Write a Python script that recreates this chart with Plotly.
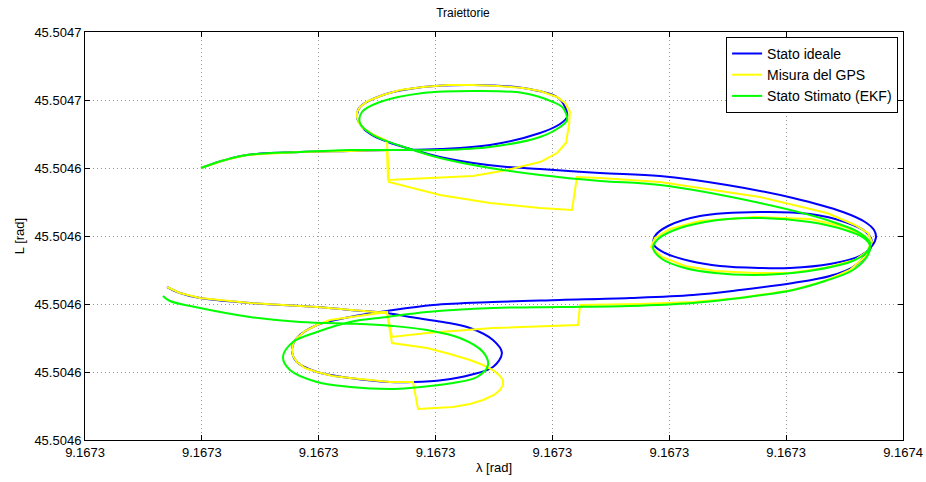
import plotly.graph_objects as go

# ---- tick labels ----
x_tickvals = [9.16728, 9.16729, 9.16730, 9.16731, 9.16732, 9.16733, 9.16734, 9.16735]
x_ticktext = ["9.1673", "9.1673", "9.1673", "9.1673", "9.1673", "9.1673", "9.1673", "9.1674"]
y_tickvals = [45.50456, 45.50458, 45.50460, 45.50462, 45.50464, 45.50466, 45.50468]
y_ticktext = ["45.5046", "45.5046", "45.5046", "45.5046", "45.5046", "45.5047", "45.5047"]

# ---- Stato ideale ----
ideal_lam = [9.16728993, 9.16729198, 9.16729386, 9.16729840, 9.16730268, 9.16730610, 9.16731038, 9.16731466,
             9.16731894, 9.16732065, 9.16732125, 9.16732108, 9.16732039, 9.16731748, 9.16731320, 9.16730892,
             9.16730550, 9.16730353, 9.16730328, 9.16730379, 9.16730473, 9.16730593, 9.16730756, 9.16731038,
             9.16731320, 9.16731611, 9.16731894, 9.16732407, 9.16732920, 9.16733494, 9.16734059, 9.16734486,
             9.16734675, 9.16734752, 9.16734769, 9.16734735, 9.16734632, 9.16734375, 9.16734033, 9.16733776,
             9.16733434, 9.16733177, 9.16732963, 9.16732869, 9.16732878, 9.16732989, 9.16733263, 9.16733776,
             9.16734204, 9.16734504, 9.16734683, 9.16734735, 9.16734709, 9.16734572, 9.16734375, 9.16734059,
             9.16733605, 9.16733203, 9.16732664, 9.16732065, 9.16731491, 9.16730978, 9.16730584, 9.16730268,
             9.16729985, 9.16729814, 9.16729771, 9.16729814, 9.16729985, 9.16730268, 9.16730610, 9.16730807,
             9.16731064, 9.16731295, 9.16731491, 9.16731568, 9.16731491, 9.16731295, 9.16731064, 9.16730781,
             9.16730584, 9.16730268, 9.16729985, 9.16729412, 9.16728984, 9.16728813, 9.16728702]
ideal_L = [45.50464000, 45.50464235, 45.50464382, 45.50464471, 45.50464500, 45.50464529, 45.50464559, 45.50464676,
           45.50465029, 45.50465294, 45.50465500, 45.50465794, 45.50466088, 45.50466353, 45.50466441, 45.50466382,
           45.50466147, 45.50465794, 45.50465500, 45.50465177, 45.50464941, 45.50464765, 45.50464588, 45.50464324,
           45.50464147, 45.50464029, 45.50463971, 45.50463853, 45.50463765, 45.50463500, 45.50463118, 45.50462706,
           45.50462412, 45.50462176, 45.50461971, 45.50461706, 45.50461412, 45.50461176, 45.50461059, 45.50461059,
           45.50461118, 45.50461265, 45.50461500, 45.50461735, 45.50462000, 45.50462294, 45.50462588, 45.50462706,
           45.50462647, 45.50462412, 45.50462118, 45.50461824, 45.50461559, 45.50461088, 45.50460824, 45.50460618,
           45.50460412, 45.50460265, 45.50460176, 45.50460118, 45.50460059, 45.50459971, 45.50459794, 45.50459618,
           45.50459382, 45.50459000, 45.50458647, 45.50458294, 45.50458000, 45.50457824, 45.50457706, 45.50457706,
           45.50457765, 45.50457912, 45.50458147, 45.50458559, 45.50458941, 45.50459294, 45.50459471, 45.50459618,
           45.50459735, 45.50459824, 45.50459912, 45.50460029, 45.50460176, 45.50460324, 45.50460500]

# ---- Misura del GPS ----
gps_lam = [9.16728993, 9.16729198, 9.16729386, 9.16729840, 9.16730268, 9.16730584, 9.16730593, 9.16731038,
           9.16731320, 9.16731611, 9.16731894, 9.16732039, 9.16732116, 9.16732142, 9.16732150, 9.16732108,
           9.16732039, 9.16731894, 9.16731748, 9.16731534, 9.16731320, 9.16731106, 9.16730892, 9.16730696,
           9.16730550, 9.16730422, 9.16730353, 9.16730328, 9.16730328, 9.16730345, 9.16730379, 9.16730473,
           9.16730584, 9.16730601, 9.16731038, 9.16731466, 9.16731894, 9.16732167, 9.16732210, 9.16732407,
           9.16732920, 9.16733776, 9.16734350, 9.16734589, 9.16734700, 9.16734735, 9.16734700, 9.16734589,
           9.16734332, 9.16734033, 9.16733733, 9.16733391, 9.16733134, 9.16732938, 9.16732843, 9.16732878,
           9.16733006, 9.16733263, 9.16733733, 9.16734204, 9.16734504, 9.16734675, 9.16734718, 9.16734683,
           9.16734546, 9.16734332, 9.16734059, 9.16733605, 9.16733203, 9.16732749, 9.16732236, 9.16732219,
           9.16731491, 9.16730927, 9.16730627,
           9.16730584, 9.16730268, 9.16730097, 9.16729985, 9.16729883, 9.16729814, 9.16729780, 9.16729771,
           9.16729780, 9.16729814, 9.16729883, 9.16729985, 9.16730122, 9.16730268, 9.16730439, 9.16730610,
           9.16730807, 9.16730850, 9.16731149, 9.16731295, 9.16731406, 9.16731500, 9.16731551, 9.16731577,
           9.16731577, 9.16731543, 9.16731491, 9.16731406, 9.16731295, 9.16731123, 9.16730927, 9.16730627,
           9.16730584, 9.16730268, 9.16729985, 9.16729412, 9.16728984, 9.16728813, 9.16728702]
gps_L = [45.50464000, 45.50464235, 45.50464382, 45.50464471, 45.50464500, 45.50464529, 45.50463647, 45.50463706,
         45.50463765, 45.50463941, 45.50464176, 45.50464441, 45.50464735, 45.50465265, 45.50465647, 45.50465912,
         45.50466088, 45.50466265, 45.50466353, 45.50466412, 45.50466441, 45.50466441, 45.50466382, 45.50466294,
         45.50466147, 45.50465971, 45.50465794, 45.50465647, 45.50465500, 45.50465324, 45.50465177, 45.50464971,
         45.50464794, 45.50463588, 45.50463206, 45.50462971, 45.50462824, 45.50462765, 45.50463735, 45.50463706,
         45.50463588, 45.50463147, 45.50462676, 45.50462324, 45.50462088, 45.50461824, 45.50461559, 45.50461294,
         45.50461059, 45.50460912, 45.50460912, 45.50460971, 45.50461118, 45.50461382, 45.50461676, 45.50461941,
         45.50462206, 45.50462441, 45.50462559, 45.50462500, 45.50462265, 45.50462000, 45.50461735, 45.50461412,
         45.50461000, 45.50460676, 45.50460412, 45.50460176, 45.50460059, 45.50460000, 45.50459971, 45.50459382,
         45.50459294, 45.50459147, 45.50459029,
         45.50459765, 45.50459618, 45.50459529, 45.50459382, 45.50459206, 45.50459000, 45.50458824, 45.50458647,
         45.50458471, 45.50458294, 45.50458118, 45.50458000, 45.50457882, 45.50457824, 45.50457765, 45.50457706,
         45.50457706, 45.50456912, 45.50456971, 45.50457059, 45.50457176, 45.50457324, 45.50457471, 45.50457618,
         45.50457765, 45.50457912, 45.50458059, 45.50458206, 45.50458353, 45.50458529, 45.50458706, 45.50458853,
         45.50459735, 45.50459824, 45.50459912, 45.50460029, 45.50460176, 45.50460324, 45.50460500]

# ---- Stato Stimato (EKF) ----
ekf_lam = [9.16728993, 9.16729198, 9.16729386, 9.16729840, 9.16730268, 9.16730610, 9.16731038, 9.16731466,
           9.16731894, 9.16732065, 9.16732125, 9.16732090, 9.16732005, 9.16731748, 9.16731320, 9.16730892,
           9.16730524, 9.16730370, 9.16730353, 9.16730465, 9.16730756, 9.16731038, 9.16731466, 9.16731894,
           9.16732407, 9.16732920, 9.16733776, 9.16734350, 9.16734632, 9.16734718, 9.16734683, 9.16734546,
           9.16734247, 9.16733947, 9.16733716, 9.16733391, 9.16733134, 9.16732938, 9.16732861, 9.16732895,
           9.16733023, 9.16733306, 9.16733716, 9.16734204, 9.16734504, 9.16734666, 9.16734718, 9.16734700,
           9.16734572, 9.16734332, 9.16734059, 9.16733605, 9.16733203, 9.16732664, 9.16732065, 9.16731491,
           9.16730927, 9.16730584, 9.16730268, 9.16729985, 9.16729780, 9.16729694, 9.16729754, 9.16729985,
           9.16730268, 9.16730610, 9.16730781, 9.16731149, 9.16731355, 9.16731449, 9.16731406, 9.16731209,
           9.16730927, 9.16730636, 9.16730353, 9.16729840, 9.16729412, 9.16728984, 9.16728727, 9.16728667]
ekf_L = [45.50464000, 45.50464235, 45.50464382, 45.50464471, 45.50464529, 45.50464529, 45.50464529, 45.50464618,
         45.50464912, 45.50465206, 45.50465412, 45.50465765, 45.50465941, 45.50466206, 45.50466265, 45.50466206,
         45.50465941, 45.50465647, 45.50465324, 45.50464971, 45.50464588, 45.50464294, 45.50464000, 45.50463794,
         45.50463618, 45.50463500, 45.50462971, 45.50462471, 45.50462088, 45.50461794, 45.50461500, 45.50461235,
         45.50461000, 45.50460882, 45.50460853, 45.50460912, 45.50461059, 45.50461324, 45.50461647, 45.50461882,
         45.50462147, 45.50462412, 45.50462529, 45.50462412, 45.50462176, 45.50461941, 45.50461706, 45.50461441,
         45.50461000, 45.50460676, 45.50460412, 45.50460176, 45.50460029, 45.50459941, 45.50459912, 45.50459882,
         45.50459765, 45.50459618, 45.50459471, 45.50459176, 45.50458882, 45.50458441, 45.50458059, 45.50457706,
         45.50457559, 45.50457500, 45.50457529, 45.50457676, 45.50457853, 45.50458206, 45.50458588, 45.50459000,
         45.50459235, 45.50459353, 45.50459412, 45.50459471, 45.50459618, 45.50459882, 45.50460088, 45.50460235]

FONT = "Liberation Sans, Arial, sans-serif"

fig = go.Figure()
fig.add_trace(go.Scatter(x=ideal_lam, y=ideal_L, mode="lines", name="Stato ideale",
                         line=dict(color="#0000FF", width=2, shape="spline", smoothing=1)))
fig.add_trace(go.Scatter(x=gps_lam, y=gps_L, mode="lines", name="Misura del GPS",
                         line=dict(color="#FFFF00", width=2, shape="linear")))
fig.add_trace(go.Scatter(x=ekf_lam, y=ekf_L, mode="lines", name="Stato Stimato (EKF)",
                         line=dict(color="#00FF00", width=2, shape="spline", smoothing=1)))

axis_common = dict(
    showline=True, linecolor="black", linewidth=1, mirror="ticks",
    ticks="inside", ticklen=5, tickcolor="black", tickwidth=1,
    showgrid=True, gridcolor="#9a9a9a", griddash="1px,3px", gridwidth=1,
    zeroline=False, automargin=False,
    tickfont=dict(family=FONT, size=13, color="black"),
)

fig.update_layout(
    width=926, height=482,
    margin=dict(l=85, r=23, t=32, b=42, autoexpand=False),
    paper_bgcolor="white", plot_bgcolor="white",
    font=dict(family=FONT, size=13, color="black"),
    title=dict(text="Traiettorie", x=0.5, xanchor="center", y=0.974, yanchor="middle",
               font=dict(family=FONT, size=12, color="black")),
    xaxis=dict(range=[9.16728, 9.16735], tickvals=x_tickvals, ticktext=x_ticktext,
               title=dict(text="λ [rad]", standoff=4, font=dict(family=FONT, size=13)),
               **axis_common),
    yaxis=dict(range=[45.50456, 45.50468], tickvals=y_tickvals, ticktext=y_ticktext,
               title=dict(text="L [rad]", standoff=6, font=dict(family=FONT, size=13)),
               **axis_common),
    legend=dict(x=0.994, xanchor="right", y=0.988, yanchor="top",
                bgcolor="white", bordercolor="black", borderwidth=1,
                font=dict(family=FONT, size=14, color="black"),
                tracegroupgap=0, itemwidth=30),
    showlegend=True,
)

fig.write_html("out.html")
